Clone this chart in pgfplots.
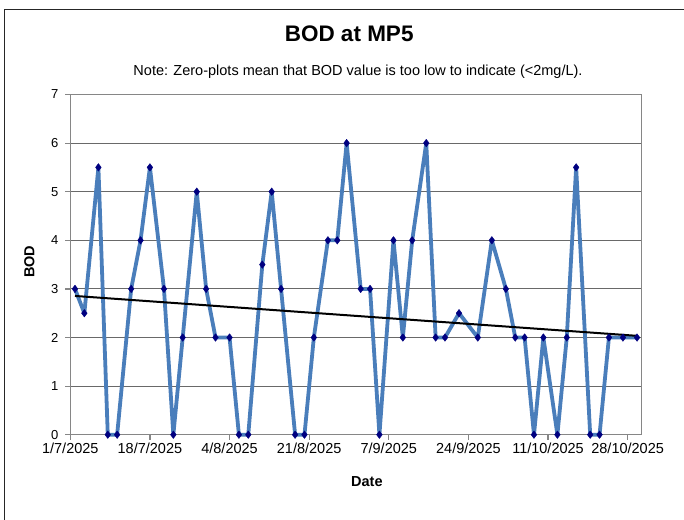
\documentclass[border=0pt]{standalone}
\usepackage{pgfplots}
\usepackage{pgfplotstable}
\pgfplotsset{compat=1.18}
\usepackage{fontspec}
\setmainfont{Liberation Sans}
\definecolor{serblue}{RGB}{74,126,187}
\definecolor{navymark}{RGB}{0,0,128}
\definecolor{gridc}{RGB}{105,105,105}
\definecolor{axc}{RGB}{134,134,134}

% day 0 = 1/7/2025
\pgfplotstableread{
day val
1 3
3 2.5
6 5.5
8 0
10 0
13 3
15 4
17 5.5
20 3
22 0
24 2
27 5
29 3
31 2
34 2
36 0
38 0
41 3.5
43 5
45 3
48 0
50 0
52 2
55 4
57 4
59 6
62 3
64 3
66 0
69 4
71 2
73 4
76 6
78 2
80 2
83 2.5
87 2
90 4
93 3
95 2
97 2
99 0
101 2
104 0
106 2
108 5.5
111 0
113 0
115 2
118 2
121 2
}\bod

\begin{document}
\begin{tikzpicture}[x=1pt,y=1pt]
\useasboundingbox (0,0) rectangle (684,519);
\fill[white] (0,0) rectangle (684,519);
\draw[black!85, line width=1.2pt] (4.8,-5) -- (4.8,509.7) -- (690,509.7);
\begin{axis}[
  at={(70.3pt,84.3pt)}, anchor=south west, scale only axis,
  width=571.4pt, height=340.2pt,
  xmin=0, xmax=122, ymin=0, ymax=7,
  xtick={0,17,34,51,68,85,102,119},
  xticklabels={1/7/2025,18/7/2025,4/8/2025,21/8/2025,7/9/2025,24/9/2025,11/10/2025,28/10/2025},
  ytick={0,1,2,3,4,5,6,7},
  ymajorgrids,
  major grid style={gridc, line width=0.9pt},
  axis line style={axc, line width=1.2pt},
  tick align=outside, major tick length=5pt,
  tick style={axc, line width=1.2pt},
  xtick pos=lower, ytick pos=left,
  xticklabel style={font=\fontsize{14.5}{17}\selectfont, black},
  yticklabel style={font=\fontsize{13}{15}\selectfont, black, xshift=-3.5pt},
  /pgf/number format/assume math mode=true,
  xlabel={Date},
  xlabel style={font=\fontsize{14.5}{17}\selectfont\bfseries, at={(axis description cs:0.519,-0.151)}, anchor=base},
  ylabel={BOD},
  ylabel style={font=\fontsize{14.5}{17}\selectfont\bfseries, at={(axis description cs:-0.0715,0.508)}, anchor=center, rotate=0},
  title={BOD at MP5},
  title style={font=\fontsize{22.5}{26}\selectfont\bfseries, at={(axis description cs:0.488,1.1367)}, anchor=base},
  clip=false,
]
\addplot[serblue, line width=3.8pt, line join=round,
  mark=diamond*, mark size=3.8pt,
  mark options={navymark, fill=navymark, line width=0.4pt}]
  table[x=day, y=val] {\bod};
\addplot[black, line width=2pt, no marks]
  table[x=day, y={create col/linear regression={y=val}}] {\bod};
\node[font=\fontsize{14.5}{17}\selectfont, anchor=base] at (axis description cs:0.5035,1.0544)
  {Note: Zero-plots mean that BOD value is too low to indicate (<2mg/L).};
\end{axis}
\end{tikzpicture}
\end{document}
